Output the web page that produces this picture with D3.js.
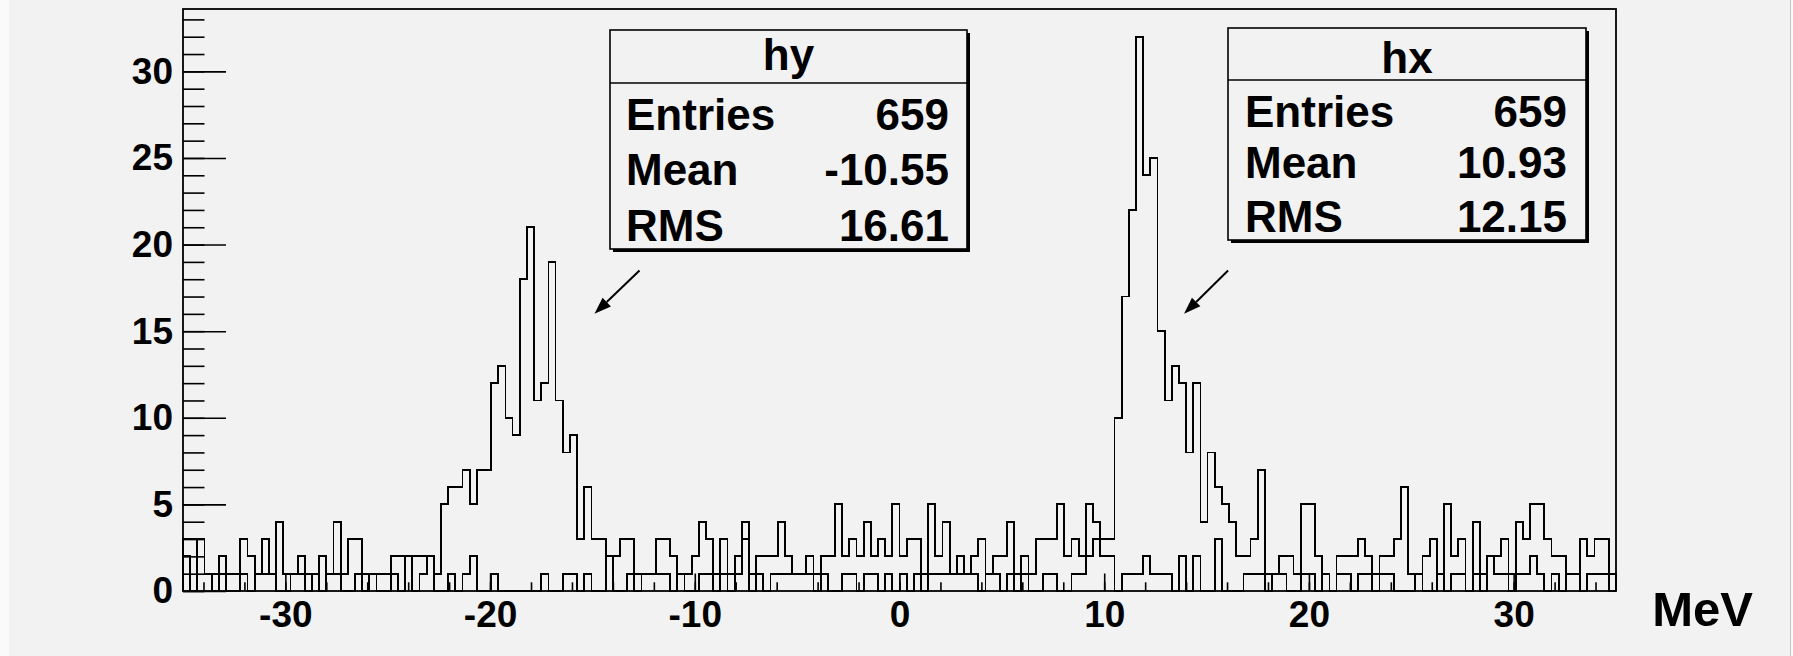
<!DOCTYPE html>
<html>
<head>
<meta charset="utf-8">
<script src="https://cdn.jsdelivr.net/npm/d3@7"></script>
<style>
  html, body { margin: 0; padding: 0; background: #f2f2f2; }
  svg { display: block; }
  text { font-family: "Liberation Sans", Arial, Helvetica, sans-serif; font-weight: bold; fill: #000; }
</style>
</head>
<body>
<svg id="chart" width="1793" height="656"></svg>
<script>
// Histogram binning: 200 bins from -35 to 35 MeV
const xLow = -35, xHigh = 35, nBins = 200;

// Bin contents of hy (peak near -18 MeV)
const hy = [
  3,3,3,1,1,2,1,1,3,2,
  1,3,1,4,1,1,2,1,1,2,
  1,4,1,3,3,1,1,1,1,2,
  2,2,2,2,2,1,5,6,6,7,
  5,7,7,12,13,10,9,18,21,11,
  12,19,11,8,9,3,6,3,3,2,
  2,3,3,1,1,1,3,3,2,1,
  1,2,4,3,1,3,1,2,4,1,
  2,2,2,4,2,1,1,2,1,2,
  2,5,2,3,2,4,2,3,2,5,
  2,3,3,1,5,2,4,1,2,1,
  2,3,1,2,2,4,1,2,1,3,
  3,3,5,2,3,2,2,3,2,2,
  0,1,1,1,2,1,1,1,0,2,
  0,2,0,0,3,0,0,0,1,1,
  1,1,1,2,2,1,5,5,2,1,
  0,2,2,2,3,2,1,2,2,3,
  6,1,1,2,3,1,5,2,3,0,
  4,1,2,2,3,1,4,3,5,5,
  3,2,2,1,1,3,2,3,3,1
];

// Bin contents of hx (peak near +12 MeV)
const hx = [
  2,0,3,1,0,1,0,0,1,0,
  1,1,1,0,0,1,1,0,1,0,
  1,1,0,0,1,0,1,0,0,1,
  0,2,0,1,2,0,0,1,0,1,
  2,0,0,1,0,0,0,0,0,0,
  1,0,0,1,1,0,1,0,0,2,
  0,0,1,0,1,1,1,1,0,1,
  0,0,1,1,0,1,0,1,3,0,
  1,0,1,1,1,1,1,1,0,1,
  0,0,1,1,0,1,1,0,1,0,
  1,0,1,0,1,1,1,1,1,1,
  1,0,1,1,0,1,0,1,0,0,
  1,1,0,0,1,1,5,4,3,3,
  10,17,22,32,24,25,15,11,13,12,
  8,12,4,8,6,5,4,2,2,3,
  7,0,1,1,0,0,1,1,0,1,
  0,1,1,0,1,1,0,1,1,0,
  0,0,1,0,0,1,0,1,1,0,
  1,0,2,1,1,0,1,1,2,1,
  0,1,0,1,1,0,1,1,1,0
];

// Axis ticks and labels
const xMajorTicks = [-30, -20, -10, 0, 10, 20, 30];
const xMinorTicks = d3.range(-34, 35, 2);
const yMajorTicks = [0, 5, 10, 15, 20, 25, 30];
const yMinorTicks = d3.range(0, 34, 1);
const xTitle = "MeV";

// Statistics boxes
const statsHy = { name: "hy", rows: [["Entries", "659"], ["Mean", "-10.55"], ["RMS", "16.61"]] };
const statsHx = { name: "hx", rows: [["Entries", "659"], ["Mean", "10.93"], ["RMS", "12.15"]] };

// Arrows pointing from each stats box to its peak (data coordinates: MeV, counts)
const arrows = [
  { from: [-12.70, 18.5], to: [-14.90, 16.0] },
  { from: [16.05, 18.5], to: [13.90, 16.0] }
];

// ---------------------------------------------------------------
const W = 1793, H = 656;
const frame = { left: 183, right: 1616, top: 9, bottom: 591 };
const bg = "#f2f2f2";

const svg = d3.select("#chart");
svg.append("rect").attr("width", W).attr("height", H).attr("fill", bg);
// canvas window edges
svg.append("rect").attr("x", 0).attr("y", 0).attr("width", 9).attr("height", H).attr("fill", "#fafafa");
svg.append("rect").attr("x", W - 2).attr("y", 0).attr("width", 2).attr("height", H).attr("fill", "#fafafa");
svg.append("line").attr("x1", W - 2.5).attr("x2", W - 2.5).attr("y1", 0).attr("y2", H)
  .attr("stroke", "#c4c4c4").attr("stroke-width", 1);

const yMax = 1.05 * d3.max(hx.concat(hy));
const x = d3.scaleLinear().domain([xLow, xHigh]).range([frame.left, frame.right]);
const y = d3.scaleLinear().domain([0, yMax]).range([frame.bottom, frame.top]);
const binWidth = (xHigh - xLow) / nBins;

// Step outline of a histogram
function stepPoints(counts) {
  const pts = [[xLow, 0]];
  counts.forEach((c, i) => pts.push([xLow + i * binWidth, c]));
  pts.push([xHigh, counts[counts.length - 1]]);
  pts.push([xHigh, 0]);
  return pts;
}
const line = d3.line().x(d => x(d[0])).y(d => y(d[1])).curve(d3.curveStepAfter);

const plot = svg.append("g");
[hy, hx].forEach(counts => {
  plot.append("path")
    .attr("d", line(stepPoints(counts)))
    .attr("fill", "none")
    .attr("stroke", "#000")
    .attr("stroke-width", 1.8)
    .attr("shape-rendering", "crispEdges");
});

const plainNumber = d => String(d);

// Y axis: ticks point into the frame
const yMinorAxis = d3.axisLeft(y).tickValues(yMinorTicks).tickSizeInner(-21.5).tickSizeOuter(0).tickFormat("");
const yMajorAxis = d3.axisLeft(y).tickValues(yMajorTicks).tickSizeInner(-43).tickSizeOuter(0).tickPadding(10).tickFormat(plainNumber);
const gy1 = svg.append("g").attr("transform", `translate(${frame.left},0)`).call(yMinorAxis);
const gy2 = svg.append("g").attr("transform", `translate(${frame.left},0)`).call(yMajorAxis);

// X axis
const xMinorAxis = d3.axisBottom(x).tickValues(xMinorTicks).tickSizeInner(-8.7).tickSizeOuter(0).tickFormat("");
const xMajorAxis = d3.axisBottom(x).tickValues(xMajorTicks).tickSizeInner(-17.5).tickSizeOuter(0).tickPadding(10).tickFormat(plainNumber);
const gx1 = svg.append("g").attr("transform", `translate(0,${frame.bottom})`).call(xMinorAxis);
const gx2 = svg.append("g").attr("transform", `translate(0,${frame.bottom})`).call(xMajorAxis);

[gy1, gy2, gx1, gx2].forEach(g => {
  g.select(".domain").remove();
  g.selectAll(".tick line").attr("stroke", "#000").attr("stroke-width", 1.6);
  g.selectAll(".tick text").style("font-size", "37px").style("font-family", null).attr("fill", "#000");
});

// Frame
svg.append("rect")
  .attr("x", frame.left).attr("y", frame.top)
  .attr("width", frame.right - frame.left).attr("height", frame.bottom - frame.top)
  .attr("fill", "none").attr("stroke", "#000").attr("stroke-width", 1.8);

// Axis title
svg.append("text")
  .attr("x", 1753).attr("y", 626)
  .attr("text-anchor", "end")
  .style("font-size", "49px")
  .text(xTitle);

// Stats boxes
function statsBox(stats, box) {
  const g = svg.append("g");
  g.append("rect")
    .attr("x", box.x0 + 3).attr("y", box.y0 + 3)
    .attr("width", box.x1 - box.x0).attr("height", box.y1 - box.y0)
    .attr("fill", "#000");
  g.append("rect")
    .attr("x", box.x0).attr("y", box.y0)
    .attr("width", box.x1 - box.x0).attr("height", box.y1 - box.y0)
    .attr("fill", bg).attr("stroke", "#000").attr("stroke-width", 1.6);
  g.append("line")
    .attr("x1", box.x0).attr("x2", box.x1)
    .attr("y1", box.sep).attr("y2", box.sep)
    .attr("stroke", "#000").attr("stroke-width", 1.6);
  g.append("text")
    .attr("x", (box.x0 + box.x1) / 2).attr("y", box.title)
    .attr("text-anchor", "middle").style("font-size", "44px")
    .text(stats.name);
  stats.rows.forEach((r, i) => {
    g.append("text").attr("x", box.textL).attr("y", box.rows[i])
      .style("font-size", "44px").text(r[0]);
    g.append("text").attr("x", box.textR).attr("y", box.rows[i])
      .attr("text-anchor", "end").style("font-size", "44px").text(r[1]);
  });
}
statsBox(statsHy, { x0: 610, x1: 967, y0: 30, y1: 249, sep: 83, title: 70, rows: [130, 185, 241], textL: 626, textR: 949 });
statsBox(statsHx, { x0: 1228, x1: 1586, y0: 28, y1: 240, sep: 80, title: 73, rows: [127, 178, 232], textL: 1245, textR: 1567 });

// Arrows
arrows.forEach(a => {
  const x1 = x(a.from[0]), y1 = y(a.from[1]);
  const x2 = x(a.to[0]), y2 = y(a.to[1]);
  const ang = Math.atan2(y2 - y1, x2 - x1);
  const len = 17, half = 6;
  const bx = x2 - len * Math.cos(ang), by = y2 - len * Math.sin(ang);
  svg.append("line").attr("x1", x1).attr("y1", y1).attr("x2", bx).attr("y2", by)
    .attr("stroke", "#000").attr("stroke-width", 2);
  svg.append("path")
    .attr("d", d3.line()([
      [x2, y2],
      [bx + half * Math.sin(ang), by - half * Math.cos(ang)],
      [bx - half * Math.sin(ang), by + half * Math.cos(ang)]
    ]) + "Z")
    .attr("fill", "#000");
});
</script>
</body>
</html>
